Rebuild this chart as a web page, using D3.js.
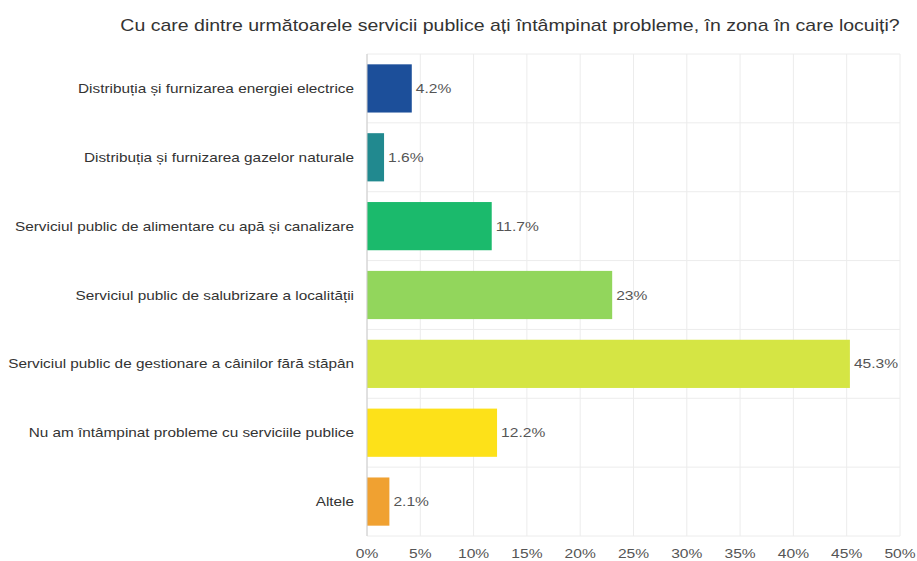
<!DOCTYPE html>
<html><head><meta charset="utf-8">
<script src="https://cdn.jsdelivr.net/npm/d3@7"></script>
<style>body{margin:0;background:#fff;}svg{display:block;}</style>
</head><body>
<svg id="chart" width="917" height="561"></svg>
<script>
const title = "Cu care dintre următoarele servicii publice ați întâmpinat probleme, în zona în care locuiți?";
const categories = [
  "Distribuția și furnizarea energiei electrice",
  "Distribuția și furnizarea gazelor naturale",
  "Serviciul public de alimentare cu apă și canalizare",
  "Serviciul public de salubrizare a localității",
  "Serviciul public de gestionare a câinilor fără stăpân",
  "Nu am întâmpinat probleme cu serviciile publice",
  "Altele"
];
const values = [4.2, 1.6, 11.7, 23, 45.3, 12.2, 2.1];
const valueLabels = ["4.2%", "1.6%", "11.7%", "23%", "45.3%", "12.2%", "2.1%"];
const colors = ["#1c4f9a", "#21898f", "#1bba6c", "#92d65c", "#d5e544", "#fde119", "#f0a131"];
const ticks = [0, 5, 10, 15, 20, 25, 30, 35, 40, 45, 50];

(function () {
const svg = d3.select("#chart");
const font = "'Liberation Sans', Arial, sans-serif";
const pLeft = 367, pRight = 900, pTop = 54, pBottom = 536;
const sx = 1.2;

const x = d3.scaleLinear().domain([0, 50]).range([pLeft, pRight]);
const y = d3.scaleBand().domain(categories).range([pTop, pBottom]).paddingInner(0.3).paddingOuter(0.15);

// vertical gridlines
svg.append("g").selectAll("line").data(ticks).join("line")
  .attr("x1", d => x(d)).attr("x2", d => x(d))
  .attr("y1", pTop).attr("y2", pBottom)
  .attr("stroke", "#ececec").attr("stroke-width", 1);

// horizontal band separators
const seps = d3.range(categories.length + 1);
const bandH = (pBottom - pTop) / categories.length;
svg.append("g").selectAll("line").data(seps).join("line")
  .attr("x1", pLeft).attr("x2", pRight)
  .attr("y1", i => pTop + i * bandH)
  .attr("y2", i => pTop + i * bandH)
  .attr("stroke", "#ececec").attr("stroke-width", 1);

// bars
svg.append("g").selectAll("rect").data(values).join("rect")
  .attr("x", x(0))
  .attr("y", (d, i) => y(categories[i]))
  .attr("width", d => x(d) - x(0))
  .attr("height", y.bandwidth())
  .attr("fill", (d, i) => colors[i]);

// axis line
svg.append("line").attr("x1", x(0)).attr("x2", x(0)).attr("y1", pTop).attr("y2", pBottom)
  .attr("stroke", "#cccccc");

// value labels
svg.append("g").selectAll("text").data(values).join("text")
  .attr("transform", (d, i) => `translate(${x(d) + 4},${y(categories[i]) + y.bandwidth() / 2}) scale(${sx},1)`)
  .attr("dy", "0.35em")
  .attr("font-family", font).attr("font-size", 13)
  .attr("fill", "#555")
  .text((d, i) => valueLabels[i]);

// category labels
svg.append("g").selectAll("text").data(categories).join("text")
  .attr("transform", d => `translate(354,${y(d) + y.bandwidth() / 2}) scale(1.18,1)`)
  .attr("dy", "0.35em")
  .attr("text-anchor", "end")
  .attr("font-family", font).attr("font-size", 13)
  .attr("fill", "#333")
  .text(d => d);

// x tick labels
svg.append("g").selectAll("text").data(ticks).join("text")
  .attr("transform", d => `translate(${x(d)},558) scale(${sx},1)`)
  .attr("text-anchor", "middle")
  .attr("font-family", font).attr("font-size", 13)
  .attr("fill", "#555")
  .text(d => d + "%");

// title
svg.append("text")
  .attr("transform", "translate(510,31) scale(1.22,1)")
  .attr("text-anchor", "middle")
  .attr("font-family", font).attr("font-size", 16)
  .attr("fill", "#333")
  .text(title);
})();
</script>
</body></html>
